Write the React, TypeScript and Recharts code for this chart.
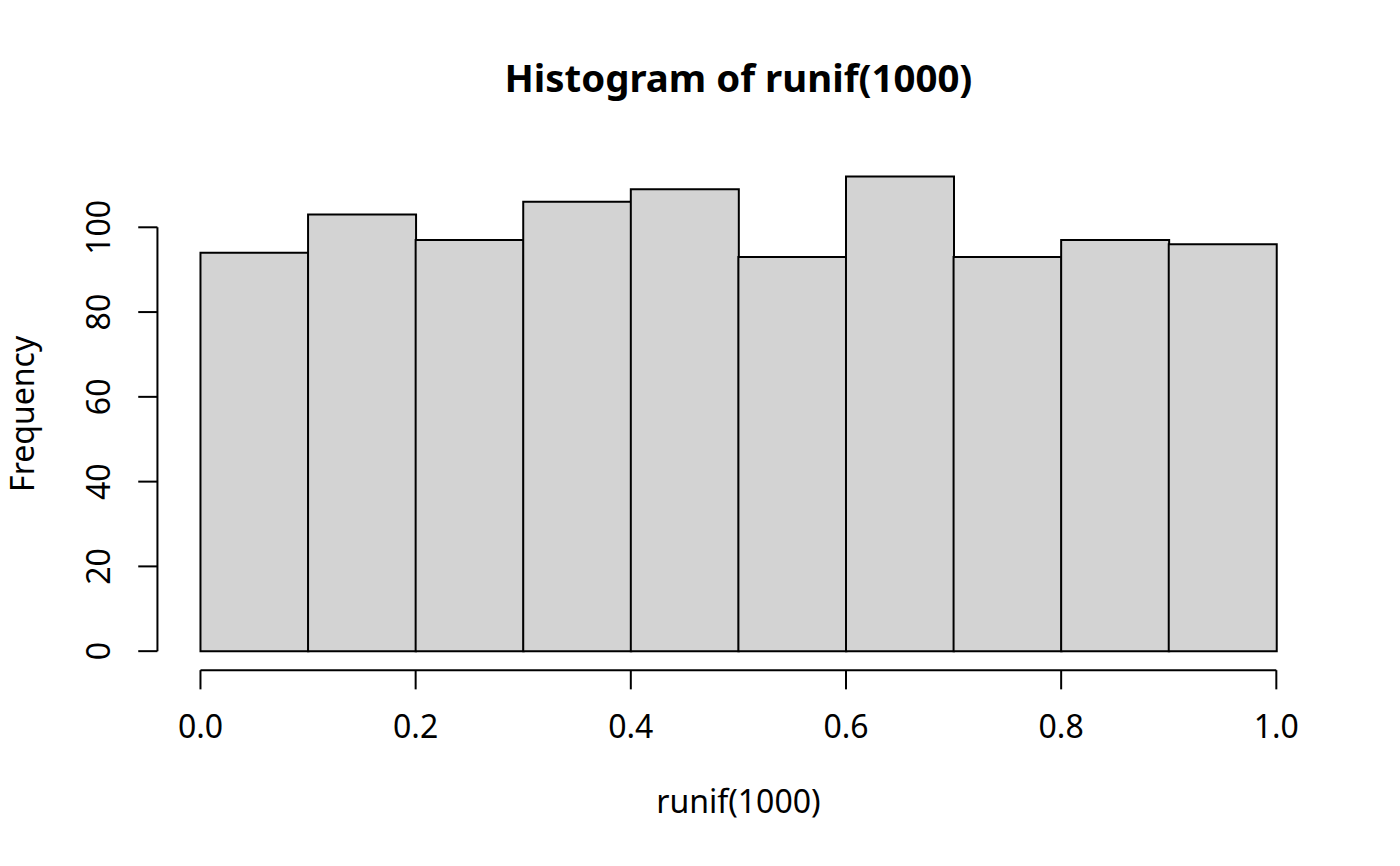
import { BarChart, Bar, XAxis, YAxis, ReferenceLine } from 'recharts';

// histogram of runif(1000), bin width 0.1
const binMids = [0.05, 0.15, 0.25, 0.35, 0.45, 0.55, 0.65, 0.75, 0.85, 0.95];
const counts = [94, 103, 97, 106, 109, 93, 112, 93, 97, 96];
const xTicks = [0, 0.2, 0.4, 0.6, 0.8, 1.0];
const yTicks = [0, 20, 40, 60, 80, 100];

const data = binMids.map((x, i) => ({ x, count: counts[i] }));

// R pads the data range by 4% on each side
const xDomain = [-0.04, 1.04];
const yDomain = [-4.48, 116.48];

const W = 1400;
const H = 866;
const LINE = 38.4; // one margin line in px
const FONT = '"Noto Sans", "Open Sans", sans-serif';

function XTick(props: any) {
  const { x, y, payload } = props;
  return (
    <g>
      <line x1={x} x2={x} y1={y} y2={y + 19.2} stroke="#000" strokeWidth={2} />
      <text x={x} y={y + 68} textAnchor="middle" fontSize={32} fontFamily={FONT} fill="#000">
        {Number(payload.value).toFixed(1)}
      </text>
    </g>
  );
}

function YTick(props: any) {
  const { x, y, payload } = props;
  const bx = x - 47;
  return (
    <g>
      <line x1={x - 19.2} x2={x} y1={y} y2={y} stroke="#000" strokeWidth={2} />
      <text
        x={bx}
        y={y}
        transform={`rotate(-90, ${bx}, ${y})`}
        textAnchor="middle"
        fontSize={32}
        fontFamily={FONT}
        fill="#000"
      >
        {payload.value}
      </text>
    </g>
  );
}

export default function App() {
  return (
    <div style={{ position: 'absolute', left: 0, top: 0, width: W, height: H, background: '#fff' }}>
      <BarChart
        width={W}
        height={H}
        data={data}
        barCategoryGap={0}
        barGap={0}
        margin={{ top: 4.1 * LINE, right: 2.1 * LINE, left: 0, bottom: 0 }}
      >
        <XAxis
          dataKey="x"
          type="number"
          domain={xDomain}
          allowDataOverflow
          ticks={xTicks}
          interval={0}
          height={5.1 * LINE}
          axisLine={false}
          tickLine={false}
          tickSize={0}
          tickMargin={0}
          tick={<XTick />}
          label={{
            content: (p: any) => {
              const vb = p.viewBox;
              return (
                <text x={vb.x + vb.width / 2} y={vb.y + 143} textAnchor="middle" fontSize={32} fontFamily={FONT} fill="#000">
                  runif(1000)
                </text>
              );
            },
          }}
        />
        <YAxis
          type="number"
          domain={yDomain}
          allowDataOverflow
          ticks={yTicks}
          interval={0}
          width={4.1 * LINE}
          axisLine={false}
          tickLine={false}
          tickSize={0}
          tickMargin={0}
          tick={<YTick />}
          label={{
            content: (p: any) => {
              const vb = p.viewBox;
              const cx = vb.x + 34;
              const cy = vb.y + vb.height / 2;
              return (
                <text
                  x={cx}
                  y={cy}
                  transform={`rotate(-90, ${cx}, ${cy})`}
                  textAnchor="middle"
                  fontSize={32}
                  fontFamily={FONT}
                  fill="#000"
                >
                  Frequency
                </text>
              );
            },
          }}
        />
        <Bar dataKey="count" fill="#D3D3D3" stroke="#000" strokeWidth={2} isAnimationActive={false} />
        <ReferenceLine
          segment={[{ x: xTicks[0], y: yDomain[0] }, { x: xTicks[xTicks.length - 1], y: yDomain[0] }]}
          stroke="#000"
          strokeWidth={2}
          ifOverflow="visible"
        />
        <ReferenceLine
          segment={[{ x: xDomain[0], y: yTicks[0] }, { x: xDomain[0], y: yTicks[yTicks.length - 1] }]}
          stroke="#000"
          strokeWidth={2}
          ifOverflow="visible"
        />
      </BarChart>
      <svg width={W} height={H} style={{ position: 'absolute', left: 0, top: 0, pointerEvents: 'none' }}>
        <text x={(4.1 * LINE + W - 2.1 * LINE) / 2} y={92} textAnchor="middle" fontSize={38.4} fontWeight="bold" fontFamily={FONT} fill="#000">
          Histogram of runif(1000)
        </text>
      </svg>
    </div>
  );
}
